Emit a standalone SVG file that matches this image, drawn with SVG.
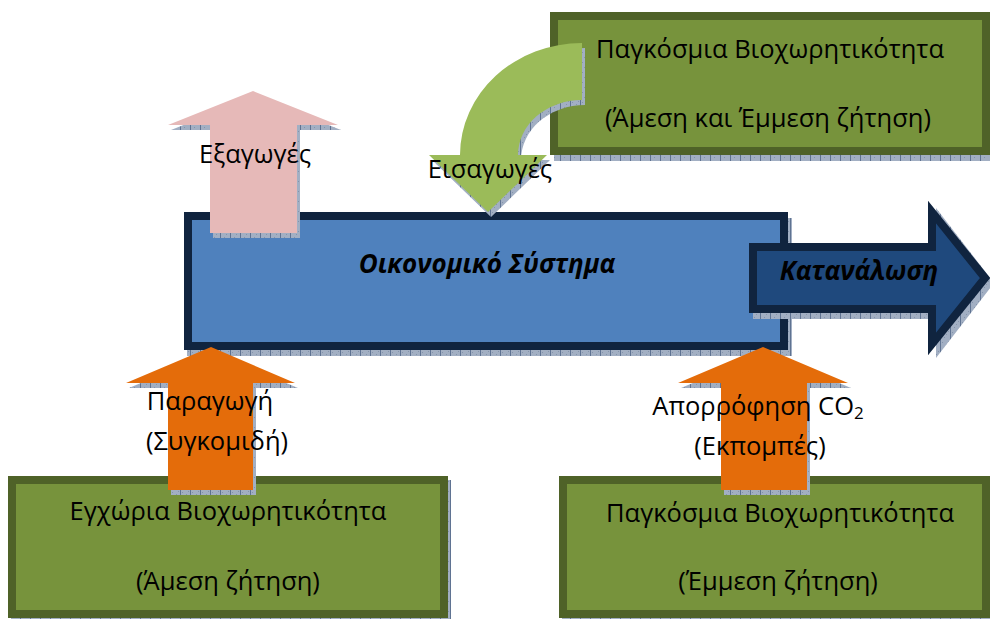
<svg xmlns="http://www.w3.org/2000/svg" width="990" height="619" viewBox="0 0 990 619">
  <defs>
    <!-- textured drop shadow used beneath every shape -->
    <pattern id="shadowTex" width="10" height="10" patternUnits="userSpaceOnUse">
      <rect width="10" height="10" fill="#a2afc3"/>
      <rect x="2" y="2" width="1" height="1" fill="#8393ab"/>
      <rect x="6" y="4" width="1" height="1" fill="#8393ab"/>
      <rect x="4" y="7" width="1" height="1" fill="#8393ab"/>
      <rect x="8" y="1" width="1" height="1" fill="#8393ab"/>
      <rect x="0" y="0" width="1" height="10" fill="#5f7392"/>
    </pattern>
    <style>
      .shadow { fill: url(#shadowTex); stroke: none; }
      .greenBox { fill: #77933c; stroke: #4f6228; stroke-width: 8; }
      .mainBox { fill: #4f81bd; stroke: #10243f; stroke-width: 8; }
      .consume { fill: #1f497d; stroke: #10243f; stroke-width: 8; stroke-linejoin: miter; }
      .pink { fill: #e6b9b8; }
      .lime { fill: #9bbb59; }
      .orange { fill: #e46c0a; }
      text { font-family: "Open Sans", "Noto Sans", "DejaVu Sans", sans-serif; font-size: 25.5px; fill: #000; text-anchor: middle; }
      .bi { font-weight: bold; font-style: italic; font-size: 26px; }
    </style>
  </defs>

  <!-- Global biocapacity (top) -->
  <g id="global-top">
    <rect class="shadow" x="554" y="19" width="440" height="142"/>
    <rect class="greenBox" x="554" y="16" width="432" height="135"/>
  </g>

  <!-- Economic system -->
  <g id="economy">
    <rect class="shadow" x="187" y="218" width="605" height="138"/>
    <rect class="mainBox" x="188" y="216" width="596" height="130"/>
  </g>

  <!-- Domestic biocapacity (bottom left) -->
  <g id="domestic">
    <rect class="shadow" x="11" y="480" width="440" height="142"/>
    <rect class="greenBox" x="12" y="480" width="432" height="134"/>
  </g>

  <!-- Global biocapacity (bottom right) -->
  <g id="global-bottom">
    <rect class="shadow" x="562" y="480" width="440" height="142"/>
    <rect class="greenBox" x="563" y="480" width="423" height="134"/>
  </g>

  <!-- Flow arrows -->
  <g id="connectors">
    <!-- consumption -->
    <g id="consumption">
      <path class="shadow" d="M753,243 L936,243 L936,208 L994,283 L936,358 L936,319 L753,319 Z"/>
      <path class="consume" d="M753,247 L932,247 L932,212 L985,278 L932,344 L932,309 L753,309 Z"/>
    </g>
    <!-- exports -->
    <g id="exports">
      <path class="shadow" d="M256,96 L341,130 L300,130 L300,238 L213,238 L213,130 L171,130 Z"/>
      <path class="pink" d="M253,91 L338,125 L297,125 L297,233 L210,233 L210,125 L168,125 Z"/>
    </g>
    <!-- imports (curved) -->
    <g id="imports">
      <path class="shadow" d="M585,48 A122,112 0 0 0 463,160 L432,160 L491,217 L550,160 L521,160 A64,55 0 0 1 585,105 Z"/>
      <path class="lime" d="M582,43 A122,112 0 0 0 460,155 L429,155 L488,212 L547,155 L518,155 A64,55 0 0 1 582,100 Z"/>
    </g>
    <!-- production -->
    <g id="production">
      <path class="shadow" d="M214,352 L298,388 L256,388 L256,495 L171,495 L171,388 L129,388 Z"/>
      <path class="orange" d="M211,347 L295,383 L253,383 L253,490 L168,490 L168,383 L126,383 Z"/>
    </g>
    <!-- CO2 absorption -->
    <g id="absorption">
      <path class="shadow" d="M766,352 L851,388 L810,388 L810,495 L724,495 L724,388 L681,388 Z"/>
      <path class="orange" d="M763,347 L848,383 L807,383 L807,490 L721,490 L721,383 L678,383 Z"/>
    </g>
  </g>

  <!-- Labels -->
  <g id="labels">
    <text x="770" y="58">Παγκόσμια Βιοχωρητικότητα</text>
    <text x="768" y="127">(Άμεση και Έμμεση ζήτηση)</text>
    <text x="255" y="163">Εξαγωγές</text>
    <text x="490" y="178">Εισαγωγές</text>
    <text class="bi" x="487" y="273">Οικονομικό Σύστημα</text>
    <text class="bi" x="859" y="280">Κατανάλωση</text>
    <text x="210" y="410">Παραγωγή</text>
    <text x="217" y="450">(Συγκομιδή)</text>
    <text x="758" y="415">Απορρόφηση CO<tspan font-size="17" dy="4">2</tspan></text>
    <text x="760" y="455">(Εκπομπές)</text>
    <text x="228" y="520">Εγχώρια Βιοχωρητικότητα</text>
    <text x="228" y="590">(Άμεση ζήτηση)</text>
    <text x="780" y="522">Παγκόσμια Βιοχωρητικότητα</text>
    <text x="778" y="590">(Έμμεση ζήτηση)</text>
  </g>
</svg>
